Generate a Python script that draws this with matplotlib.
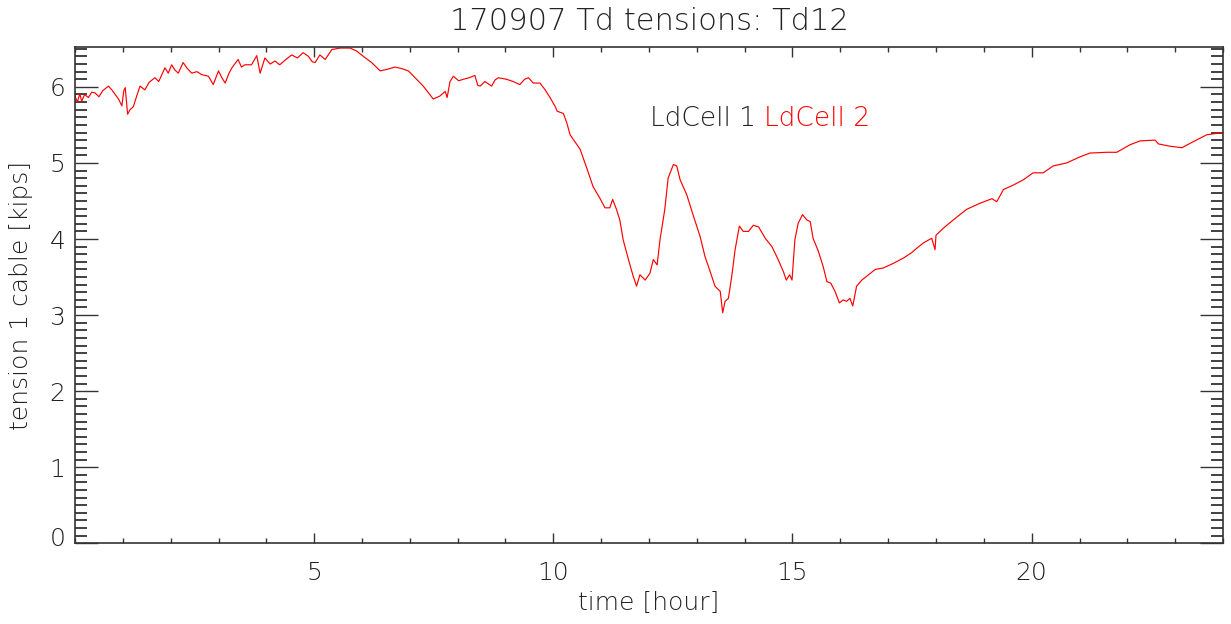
import matplotlib
matplotlib.use("Agg")
import matplotlib.pyplot as plt
from matplotlib.ticker import MultipleLocator, FixedLocator
import matplotlib.transforms as mtransforms
from matplotlib import font_manager

# ---- data (hours, kips), LdCell 2 ----
time_h = [0.00, 0.05, 0.10, 0.14, 0.20, 0.28, 0.35, 0.42, 0.50, 0.58, 0.70, 0.77, 0.84, 0.91,
          0.98, 1.02, 1.05, 1.10, 1.15, 1.22, 1.29, 1.36, 1.46, 1.55, 1.67, 1.75,
          1.88, 1.95, 2.02, 2.09, 2.16, 2.26, 2.35, 2.44, 2.55, 2.65, 2.79, 2.89, 3.00, 3.07, 3.14, 3.22, 3.28, 3.41,
          3.48, 3.55, 3.69, 3.80, 3.87, 3.97, 4.08, 4.18, 4.28, 4.39, 4.53, 4.65, 4.77, 4.88, 4.96, 5.02, 5.12,
          5.23, 5.37, 5.54, 5.75, 5.89, 6.03, 6.20, 6.38, 6.52, 6.69, 6.83, 6.97,
          7.14, 7.28, 7.39, 7.49, 7.63, 7.74, 7.78, 7.84, 7.91, 8.02, 8.12, 8.24, 8.36, 8.42, 8.47, 8.57,
          8.71, 8.78, 8.85, 9.02, 9.16, 9.30, 9.40, 9.48, 9.58, 9.72, 9.83, 9.93, 10.04, 10.08,
          10.21, 10.28, 10.35, 10.56, 10.70, 10.83, 10.97, 11.08, 11.18, 11.24, 11.32,
          11.39, 11.46, 11.57, 11.67, 11.74, 11.81, 11.92, 12.02, 12.09, 12.17, 12.23,
          12.33, 12.40, 12.51, 12.58, 12.65, 12.79, 12.93, 13.07, 13.17, 13.28, 13.38,
          13.49, 13.54, 13.59, 13.66, 13.73, 13.80, 13.89, 13.97, 14.08, 14.18, 14.29,
          14.43, 14.57, 14.70, 14.81, 14.87, 14.94, 14.99, 15.05, 15.12, 15.21, 15.30,
          15.37, 15.43, 15.54, 15.64, 15.72, 15.80, 15.89, 15.98, 16.06, 16.13, 16.20,
          16.26, 16.34, 16.45, 16.59, 16.73, 16.90, 17.11, 17.32, 17.49, 17.60, 17.74,
          17.91, 17.98, 18.00, 18.15, 18.36, 18.64, 18.92, 19.17, 19.27, 19.41, 19.62,
          19.83, 20.03, 20.24, 20.45, 20.73, 21.01, 21.22, 21.57, 21.78, 22.06, 22.27,
          22.58, 22.65, 22.89, 23.14, 23.38, 23.66, 24.00]
tension = [5.88, 5.80, 5.91, 5.81, 5.90, 5.86, 5.93, 5.92, 5.87, 5.95, 6.01, 5.96, 5.90, 5.84,
           5.75, 5.95, 5.99, 5.64, 5.70, 5.74, 5.88, 6.01, 5.96, 6.06, 6.12, 6.07,
           6.25, 6.18, 6.29, 6.22, 6.18, 6.32, 6.24, 6.18, 6.20, 6.16, 6.14, 6.03, 6.21, 6.12, 6.05, 6.18, 6.25, 6.36,
           6.26, 6.29, 6.29, 6.41, 6.18, 6.38, 6.30, 6.34, 6.29, 6.35, 6.42, 6.38, 6.45, 6.40, 6.33, 6.32, 6.42,
           6.36, 6.49, 6.51, 6.51, 6.47, 6.40, 6.32, 6.21, 6.23, 6.26, 6.24, 6.21,
           6.10, 6.01, 5.92, 5.84, 5.88, 5.94, 5.86, 6.07, 6.14, 6.08, 6.10, 6.12, 6.15, 6.02, 6.01, 6.07,
           6.01, 6.09, 6.12, 6.10, 6.07, 6.03, 6.10, 6.12, 6.05, 6.05, 5.96, 5.86, 5.74, 5.68,
           5.65, 5.53, 5.37, 5.18, 4.93, 4.69, 4.54, 4.41, 4.41, 4.52, 4.39,
           4.25, 3.99, 3.73, 3.51, 3.38, 3.53, 3.46, 3.55, 3.73, 3.66, 3.99,
           4.39, 4.80, 4.98, 4.96, 4.78, 4.58, 4.30, 4.03, 3.77, 3.57, 3.38,
           3.31, 3.03, 3.18, 3.22, 3.51, 3.86, 4.17, 4.10, 4.10, 4.18, 4.16,
           4.01, 3.90, 3.73, 3.57, 3.46, 3.53, 3.46, 3.99, 4.21, 4.32, 4.25,
           4.23, 4.01, 3.84, 3.64, 3.44, 3.42, 3.31, 3.16, 3.20, 3.18, 3.22,
           3.12, 3.38, 3.46, 3.53, 3.60, 3.62, 3.68, 3.75, 3.82, 3.88, 3.95,
           4.01, 3.86, 4.05, 4.14, 4.25, 4.39, 4.47, 4.53, 4.49, 4.65, 4.71,
           4.78, 4.87, 4.87, 4.96, 5.00, 5.08, 5.13, 5.14, 5.14, 5.24, 5.29,
           5.30, 5.25, 5.22, 5.20, 5.28, 5.37, 5.40]

title = "170907 Td tensions: Td12"
xlabel = "time [hour]"
ylabel = "tension 1 cable [kips]"
legend_labels = ["LdCell 1", "LdCell 2"]
legend_colors = ["#222222", "#ff0000"]
xticks = [5, 10, 15, 20]
yticks = [0, 1, 2, 3, 4, 5, 6]

# pick a thin sans-serif face if one is installed
FAM, FW = 'DejaVu Sans', 'normal'
found = None
for fam in ['DejaVu Sans', 'Lato', 'Open Sans', 'Roboto', 'Noto Sans', 'Inter']:
    for f in font_manager.fontManager.ttflist:
        w = f.weight if isinstance(f.weight, int) else font_manager.weight_dict.get(f.weight, 400)
        if f.name == fam and w <= 300 and f.style == 'normal':
            found = (fam, w)
            break
    if found:
        break
if found:
    FAM, FW = found
plt.rcParams['font.family'] = [FAM, 'DejaVu Sans']
TXT = '#222222'

fig = plt.figure(figsize=(12.31, 6.24), dpi=100)
ax = fig.add_axes([75/1231, (624-543.3)/624, 1148/1231, 496/624])

ax.plot(time_h, tension, color='#ff0000', lw=0.85)

ax.set_xlim(0, 24)
ax.set_ylim(0, 6.52)
ax.xaxis.set_major_locator(FixedLocator(xticks))
ax.xaxis.set_minor_locator(MultipleLocator(1))
ax.yaxis.set_major_locator(FixedLocator(yticks))
ax.yaxis.set_minor_locator(MultipleLocator(0.1))

ax.tick_params(axis='both', which='both', direction='in', top=True, right=True,
               colors='#333333', labelcolor=TXT, labelsize=18)
ax.tick_params(axis='x', which='major', length=7.2, width=1.0, pad=13)
ax.tick_params(axis='x', which='minor', length=3.6, width=1.0)
ax.tick_params(axis='y', which='major', length=16.5, width=1.0, pad=7)
ax.tick_params(axis='y', which='minor', length=8.5, width=1.3)
for lab in ax.get_xticklabels() + ax.get_yticklabels():
    lab.set_fontweight(FW)
for s in ax.spines.values():
    s.set_color('#333333')
    s.set_linewidth(1.2)

# IDL draws the bottom y label raised slightly
off = mtransforms.ScaledTranslation(0, 7/100, fig.dpi_scale_trans)
ylabs = ax.get_yticklabels()
ylabs[0].set_transform(ylabs[0].get_transform() + off)

ax.set_xlabel(xlabel, fontsize=18, color=TXT, fontweight=FW, labelpad=4)
ax.set_ylabel(ylabel, fontsize=18, color=TXT, fontweight=FW, labelpad=12)
fig.text(649/1231, 1-21/624, title, ha='center', va='center', fontsize=22,
         color=TXT, fontweight=FW)

fig.text(650/1231, 1-119/624, legend_labels[0], ha='left', va='center',
         fontsize=19, color=legend_colors[0], fontweight=FW)
fig.text(764/1231, 1-119/624, legend_labels[1], ha='left', va='center',
         fontsize=19, color=legend_colors[1], fontweight=FW)

fig.savefig("out.png", dpi=100, facecolor='white')
